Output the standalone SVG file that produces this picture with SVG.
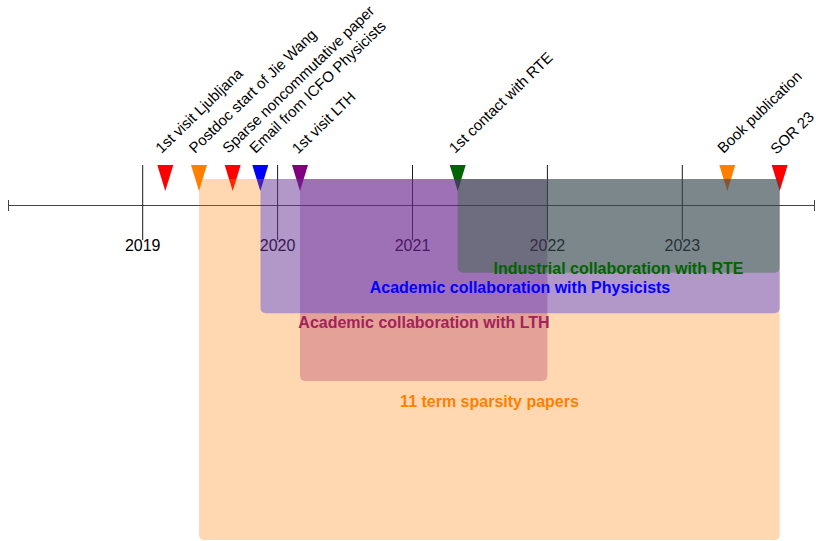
<svg xmlns="http://www.w3.org/2000/svg" width="816" height="541" viewBox="0 0 816 541">
<style>
.ev{font-family:"Liberation Sans",Arial,Helvetica,sans-serif;font-size:15px;fill:#000}
.yr{font-family:"Liberation Sans",Arial,Helvetica,sans-serif;font-size:16px;fill:#000;text-anchor:middle}
.pl{font-family:"Liberation Sans",Arial,Helvetica,sans-serif;font-size:16px;font-weight:bold;text-anchor:middle}
.tick{stroke:#1a1a1a;stroke-width:1}
.ax{stroke:#444;stroke-width:1;fill:none}
.band{fill-opacity:0.3}
</style>
<rect width="816" height="541" fill="#fff"/>
<g id="connectors">
<line class="ax" x1="8" y1="205.5" x2="815" y2="205.5"/>
<line class="ax" x1="8.5" y1="200" x2="8.5" y2="211"/>
<line class="ax" x1="814.5" y1="200" x2="814.5" y2="211"/>
<line class="tick" x1="142.7" y1="165" x2="142.7" y2="240"/>
<line class="tick" x1="277.6" y1="165" x2="277.6" y2="240"/>
<line class="tick" x1="412.5" y1="165" x2="412.5" y2="240"/>
<line class="tick" x1="547.4" y1="165" x2="547.4" y2="240"/>
<line class="tick" x1="682.3" y1="165" x2="682.3" y2="240"/>
</g>
<g id="years">
<text class="yr" x="142.7" y="251">2019</text>
<text class="yr" x="277.6" y="251">2020</text>
<text class="yr" x="412.5" y="251">2021</text>
<text class="yr" x="547.4" y="251">2022</text>
<text class="yr" x="682.3" y="251">2023</text>
</g>
<g id="ev1"><path d="M157.3 165h16l-8 26z" fill="#ff0000"/><text class="ev" transform="translate(161.5 154) rotate(-44)">1st visit Ljubljana</text></g>
<g id="ev2"><path d="M191 165h16l-8 26z" fill="#ff7f00"/><text class="ev" transform="translate(195 154) rotate(-44)">Postdoc start of Jie Wang</text></g>
<g id="ev3"><path d="M224.7 165h16l-8 26z" fill="#ff0000"/><text class="ev" transform="translate(228.5 154) rotate(-44)">Sparse noncommutative paper</text></g>
<g id="ev4"><path d="M252.3 165h16l-8 26z" fill="#0000ff"/><text class="ev" transform="translate(255.5 154) rotate(-44)">Email from ICFO Physicists</text></g>
<g id="ev5"><path d="M292 165h16l-8 26z" fill="#800080"/><text class="ev" transform="translate(298 154.5) rotate(-44)">1st visit LTH</text></g>
<g id="ev6"><path d="M449.7 165h16l-8 26z" fill="#006400"/><text class="ev" transform="translate(455 154) rotate(-44)">1st contact with RTE</text></g>
<g id="ev7"><path d="M719.3 165h16l-8 26z" fill="#ff7f00"/><text class="ev" transform="translate(723.5 154) rotate(-44)">Book publication</text></g>
<g id="ev8"><path d="M771.7 165h16l-8 26z" fill="#ff0000"/><text class="ev" transform="translate(776.5 155) rotate(-44)">SOR 23</text></g>
<g id="p-sparsity"><rect class="band" x="199" y="179" width="580.7" height="361" rx="5" fill="#ff7f00"/></g>
<g id="p-lth"><rect class="band" x="300" y="179" width="247.4" height="202" rx="5" fill="#a3225a"/></g>
<g id="p-phys"><rect class="band" x="260.5" y="179" width="519.2" height="134.3" rx="5" fill="#0000ff"/></g>
<g id="p-rte"><rect class="band" x="457.7" y="179" width="322" height="93.7" rx="5" fill="#006400"/></g>
<g id="labels">
<text class="pl" x="618.5" y="274" fill="#006400">Industrial collaboration with RTE</text>
<text class="pl" x="520" y="293" fill="#0000ff">Academic collaboration with Physicists</text>
<text class="pl" x="424" y="328" fill="#a3225a">Academic collaboration with LTH</text>
<text class="pl" x="489.5" y="407" fill="#ff7f00">11 term sparsity papers</text>
</g>
</svg>
